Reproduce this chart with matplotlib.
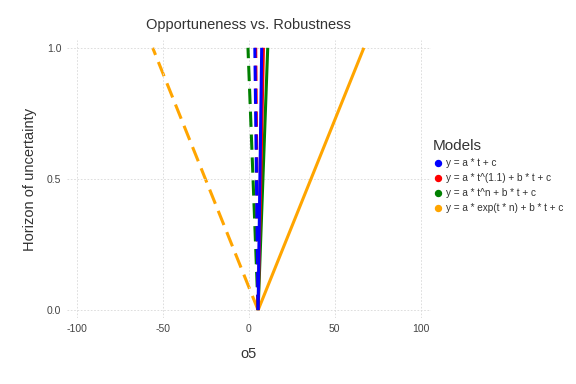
import matplotlib
matplotlib.use("Agg")
import matplotlib.pyplot as plt
from matplotlib.lines import Line2D

plt.rcParams['font.family'] = ['Liberation Sans', 'DejaVu Sans']
plt.rcParams['axes.unicode_minus'] = False

models = ["y = a * t + c", "y = a * t^(1.1) + b * t + c",
          "y = a * t^n + b * t + c", "y = a * exp(t * n) + b * t + c"]
colors = ["#0000ff", "#ff0000", "#008000", "#ffa500"]
horizon = [0.0, 1.0]
origin = 5.4
robust_top = [7.5, 8.5, 11.0, 67.0]
opport_top = [3.5, 4.0, -0.5, -56.0]

fig = plt.figure(figsize=(5.76, 3.84), dpi=100)
ax = fig.add_axes([0.116, 0.172, 0.632, 0.724])

zs = [4, 3, 2, 1]
for m, c, r, o, z in zip(models, colors, robust_top, opport_top, zs):
    ax.plot([origin, r], horizon, color=c, lw=2.2, zorder=z + 4, solid_capstyle='butt')
    ax.plot([origin, o], horizon, color=c, lw=2.2, ls=(0, (5, 2.5)), zorder=z, dash_capstyle='butt')

ax.set_xlim(-106, 106)
ax.set_ylim(-0.03, 1.03)
ax.set_xticks([-100, -50, 0, 50, 100])
ax.set_yticks([0.0, 0.5, 1.0])
ax.set_yticklabels(["0.0", "0.5", "1.0"])
ax.grid(True, color='#d8d8d8', ls=(0, (2, 2)), lw=0.6)
for s in ax.spines.values():
    s.set_visible(False)
ax.tick_params(length=0, labelsize=7.5, labelcolor='#444444', pad=4)

ax.set_title("Opportuneness vs. Robustness", fontsize=10.5, color='#333333', pad=8)
ax.set_xlabel("o5", fontsize=10.5, color='#333333', labelpad=10)
ax.set_ylabel("Horizon of uncertainty", fontsize=10.5, color='#333333', labelpad=7)

handles = [Line2D([], [], ls='none', marker='o', markersize=4.3, color=c) for c in colors]
leg = ax.legend(handles, models, loc='upper left', bbox_to_anchor=(0.99, 0.665),
                frameon=False, title="Models", fontsize=7.2, title_fontsize=11,
                handlelength=0.9, handletextpad=0.4, labelspacing=0.5,
                borderaxespad=0.2, alignment='left')
for t in leg.get_texts():
    t.set_color('#333333')
leg.get_title().set_color('#333333')

fig.savefig("out.png", dpi=100)
